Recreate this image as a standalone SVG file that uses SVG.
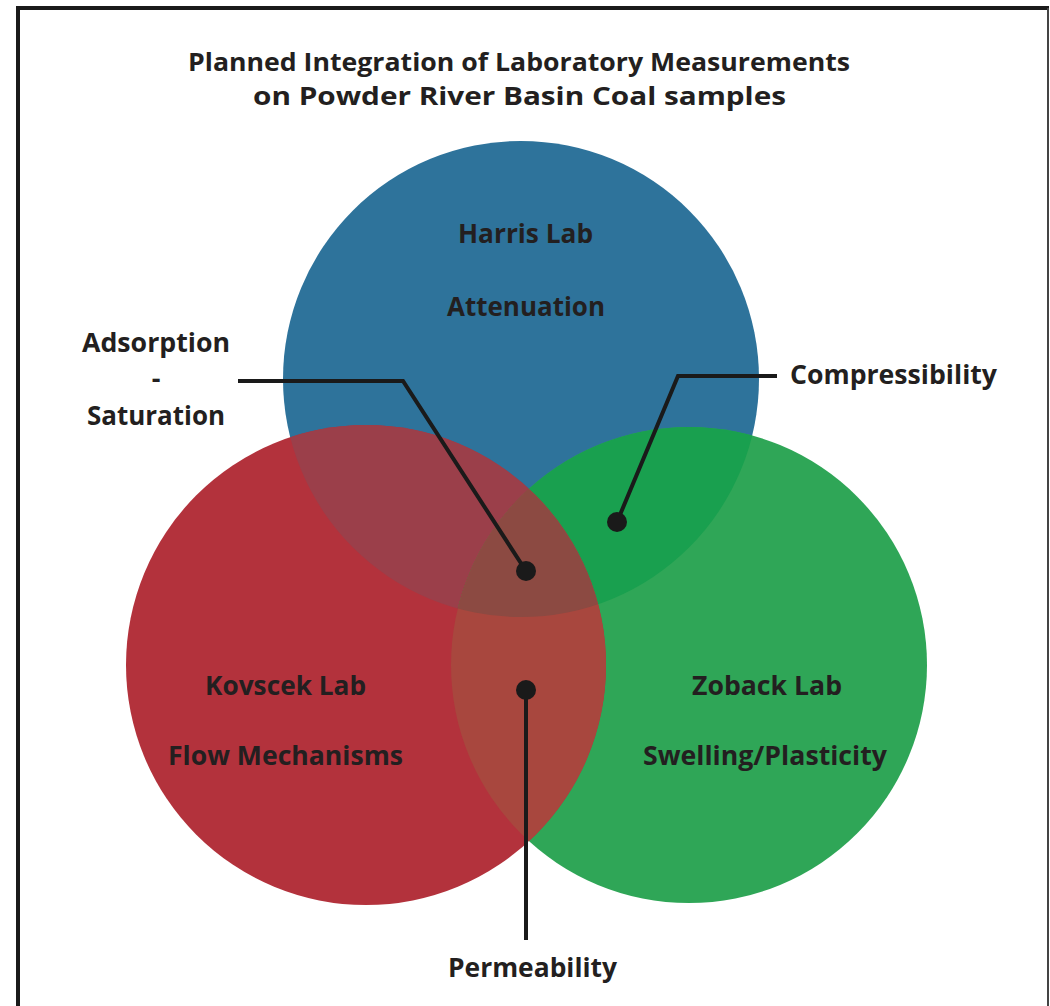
<svg xmlns="http://www.w3.org/2000/svg" width="1050" height="1006" viewBox="0 0 1050 1006">
  <style>
    .t { font-family: "Open Sans", "Liberation Sans", sans-serif; font-weight: 700; fill: #231f20; text-anchor: middle; }
    .title { font-size: 25px; }
    .lbl { font-size: 27px; }
    .lead { fill: none; stroke: #1a1a1a; stroke-width: 4; stroke-linejoin: miter; }
    .dot { fill: #1a1a1a; }
  </style>
  <defs>
    <clipPath id="cBlue"><circle cx="521" cy="379" r="238"/></clipPath>
    <clipPath id="cRed"><circle cx="366" cy="665" r="240"/></clipPath>
    <clipPath id="cGreen"><circle cx="689" cy="665" r="238"/></clipPath>
  </defs>
  <rect x="0" y="0" width="1050" height="1006" fill="#ffffff"/>
  <g id="frame">
    <line x1="18" y1="6" x2="18" y2="1006" stroke="#1a1a1a" stroke-width="4"/>
    <line x1="16" y1="8" x2="1049" y2="8" stroke="#1a1a1a" stroke-width="4"/>
    <line x1="1048" y1="8" x2="1048" y2="1006" stroke="#444" stroke-width="2"/>
  </g>
  <g id="title">
    <text class="t title" x="519" y="71" textLength="662" lengthAdjust="spacingAndGlyphs">Planned Integration of Laboratory Measurements</text>
    <text class="t title" x="519.5" y="105" textLength="533" lengthAdjust="spacingAndGlyphs">on Powder River Basin Coal samples</text>
  </g>
  <g id="harris-lab">
    <circle cx="521" cy="379" r="238" fill="#2e739b"/>
  </g>
  <g id="zoback-lab">
    <circle cx="689" cy="665" r="238" fill="#2fa657"/>
  </g>
  <g id="kovscek-lab">
    <circle cx="366" cy="665" r="240" fill="#b3323c"/>
  </g>
  <g id="overlaps">
    <circle cx="366" cy="665" r="240" fill="#9b3f4a" clip-path="url(#cBlue)"/>
    <circle cx="689" cy="665" r="238" fill="#19a04f" clip-path="url(#cBlue)"/>
    <circle cx="366" cy="665" r="240" fill="#a8473e" clip-path="url(#cGreen)"/>
    <g clip-path="url(#cGreen)">
      <circle cx="366" cy="665" r="240" fill="#8c4a42" clip-path="url(#cBlue)"/>
    </g>
  </g>
  <g id="labels">
    <text class="t lbl" x="525.5" y="243" textLength="135" lengthAdjust="spacingAndGlyphs">Harris Lab</text>
    <text class="t lbl" x="526" y="316" textLength="158" lengthAdjust="spacingAndGlyphs">Attenuation</text>
    <text class="t lbl" x="285.5" y="695" textLength="161" lengthAdjust="spacingAndGlyphs">Kovscek Lab</text>
    <text class="t lbl" x="285.5" y="765" textLength="235" lengthAdjust="spacingAndGlyphs">Flow Mechanisms</text>
    <text class="t lbl" x="767" y="695" textLength="150" lengthAdjust="spacingAndGlyphs">Zoback Lab</text>
    <text class="t lbl" x="765" y="765" textLength="244" lengthAdjust="spacingAndGlyphs">Swelling/Plasticity</text>
  </g>
  <g id="connectors">
    <polyline class="lead" points="238,381 403,381 526,571"/>
    <circle class="dot" cx="526" cy="571" r="10"/>
    <polyline class="lead" points="777,376 678,376 617,522"/>
    <circle class="dot" cx="617" cy="522" r="10"/>
    <line class="lead" x1="526" y1="690" x2="526" y2="940"/>
    <circle class="dot" cx="526" cy="690" r="10"/>
  </g>
  <g id="callouts">
    <text class="t lbl" x="156" y="352" textLength="148" lengthAdjust="spacingAndGlyphs">Adsorption</text>
    <text class="t lbl" x="156" y="388">-</text>
    <text class="t lbl" x="156" y="425" textLength="138" lengthAdjust="spacingAndGlyphs">Saturation</text>
    <text class="t lbl" x="893.5" y="384" textLength="207" lengthAdjust="spacingAndGlyphs">Compressibility</text>
    <text class="t lbl" x="532.5" y="977" textLength="169" lengthAdjust="spacingAndGlyphs">Permeability</text>
  </g>
</svg>
